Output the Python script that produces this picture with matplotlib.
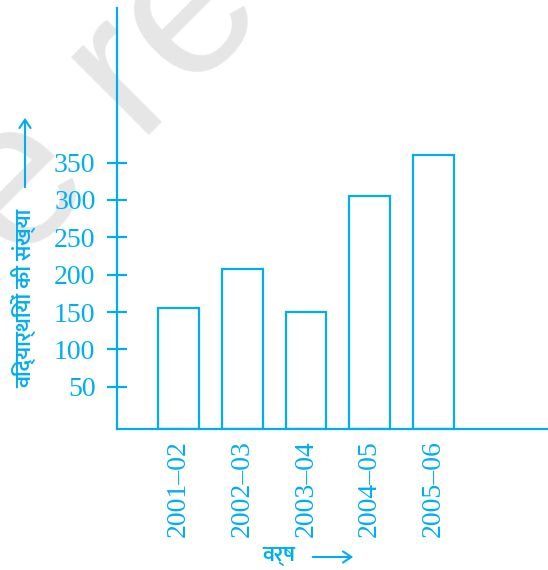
import matplotlib
matplotlib.use("Agg")
import matplotlib.pyplot as plt
from matplotlib import font_manager as fm

# data
years = ["2001–02", "2002–03", "2003–04", "2004–05", "2005–06"]
students = [155, 208, 150, 305, 360]
y_ticks = [50, 100, 150, 200, 250, 300, 350]
x_title = "वर्ष"
y_title = "विद्यार्थियों की संख्या"

CYAN = "#00AEEF"
W, H = 548, 570

# pick a font that has Devanagari glyphs
names = {f.name for f in fm.fontManager.ttflist}
hindi_font = next((n for n in ["Ek Mukta", "Mukta", "Noto Sans Devanagari",
                               "Hind", "FreeSans"] if n in names), "DejaVu Sans")

fig = plt.figure(figsize=(W / 100, H / 100), dpi=100)

# faint watermark in the background (behind the axes)
fig.text(105 / W, 1 - 102 / H, "e re", rotation=45, fontsize=150,
         family="Liberation Sans", color="#e6e6e6", ha="center", va="center",
         zorder=-5)

ax = fig.add_axes([117 / W, 1 - 429.3 / H, (W - 117) / W, (429.3 - 8) / H])
ax.patch.set_alpha(0)

x = list(range(len(years)))
ymin, ymax = -7, 557
ax.bar(x, [v - ymin for v in students], width=0.64, bottom=ymin,
       fill=False, edgecolor=CYAN, linewidth=1.6, zorder=3)

ax.set_xlim(-0.965, 5.8)
ax.set_ylim(ymin, ymax)

for side in ["top", "right"]:
    ax.spines[side].set_visible(False)
for side in ["left", "bottom"]:
    ax.spines[side].set_color(CYAN)
    ax.spines[side].set_linewidth(1.6)

ax.set_yticks(y_ticks)
ax.set_yticklabels([str(t) for t in y_ticks], family="Liberation Serif",
                   fontsize=20, color=CYAN)
ax.tick_params(axis="y", direction="inout", length=14, width=1.6,
               color=CYAN, pad=8.5)

ax.set_xticks(x)
ax.set_xticklabels(years, rotation=90, family="Liberation Serif",
                   fontsize=20, color=CYAN)
ax.tick_params(axis="x", length=0, pad=8)

# axis titles with arrows
fig.text(24 / W, 1 - 298 / H, y_title, rotation=90, fontsize=16,
         fontweight="semibold", family=hindi_font, color=CYAN,
         ha="center", va="center")
fig.add_artist(matplotlib.patches.FancyArrowPatch(
    (25 / W, 1 - 190 / H), (25 / W, 1 - 115 / H), transform=fig.transFigure,
    arrowstyle="->,head_length=6,head_width=4", color=CYAN, lw=1.5))

fig.text(279 / W, 1 - 556 / H, x_title, fontsize=16, fontweight="semibold",
         family=hindi_font, color=CYAN, ha="center", va="center")
fig.add_artist(matplotlib.patches.FancyArrowPatch(
    (310 / W, 1 - 557 / H), (356 / W, 1 - 557 / H), transform=fig.transFigure,
    arrowstyle="->,head_length=6,head_width=4", color=CYAN, lw=1.5))

fig.savefig("out.png", dpi=100)
